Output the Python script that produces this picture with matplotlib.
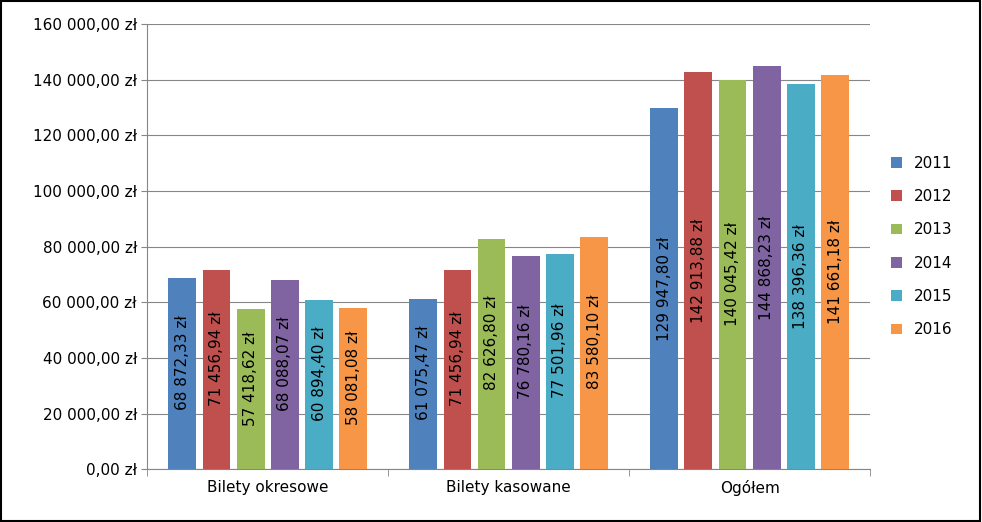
import matplotlib
matplotlib.use("Agg")
import matplotlib.pyplot as plt
import numpy as np

categories = ["Bilety okresowe", "Bilety kasowane", "Ogółem"]
years = ["2011", "2012", "2013", "2014", "2015", "2016"]
values = {
    "2011": [68872.33, 61075.47, 129947.80],
    "2012": [71456.94, 71456.94, 142913.88],
    "2013": [57418.62, 82626.80, 140045.42],
    "2014": [68088.07, 76780.16, 144868.23],
    "2015": [60894.40, 77501.96, 138396.36],
    "2016": [58081.08, 83580.10, 141661.18],
}
colors = ["#4F81BD", "#C0504D", "#9BBB59", "#8064A2", "#4BACC6", "#F79646"]

def fmt(v):
    s = f"{v:,.2f}".replace(",", " ").replace(".", ",")
    return s + " zł"

fig = plt.figure(figsize=(9.82, 5.22), dpi=100)
ax = fig.add_axes([0.150, 0.101, 0.736, 0.853])
x = np.arange(len(categories))
step = 0.142
w = 0.115
for i, y in enumerate(years):
    pos = x + (i - 2.5) * step
    bars = ax.bar(pos, values[y], w, color=colors[i], label=y, zorder=3)
    for p, v in zip(pos, values[y]):
        ax.text(p, v / 2 + 4000 if v < 100000 else v / 2, fmt(v), rotation=90,
                ha="center", va="center", fontsize=11, zorder=4)
ax.set_ylim(0, 160000)
ax.set_xlim(-0.5, 2.5)
ax.set_yticks(np.arange(0, 160001, 20000))
ax.set_yticklabels([fmt(v) for v in np.arange(0, 160001, 20000)], fontsize=11)
ax.set_xticks(x)
ax.set_xticklabels(categories, fontsize=11)
ax.tick_params(axis="x", length=0, pad=8)
ax.tick_params(axis="y", length=4, color="#868686")
ax.set_xticks([-0.5, 0.5, 1.5, 2.5], minor=True)
ax.tick_params(axis="x", which="minor", length=5, color="#868686")
ax.grid(axis="y", color="#868686", linewidth=0.8, zorder=0)
for s in ["top", "right"]:
    ax.spines[s].set_visible(False)
for s in ["left", "bottom"]:
    ax.spines[s].set_color("#868686")
ax.legend(loc="center left", bbox_to_anchor=(1.01, 0.5), frameon=False,
          fontsize=11, handlelength=0.7, handleheight=0.7, labelspacing=1.2)
fig.patches.append(plt.Rectangle((0.001, 0.002), 0.997, 0.996, transform=fig.transFigure,
                                 fill=False, edgecolor="black", linewidth=1.5))
fig.savefig("out.png", dpi=100, facecolor="white")
